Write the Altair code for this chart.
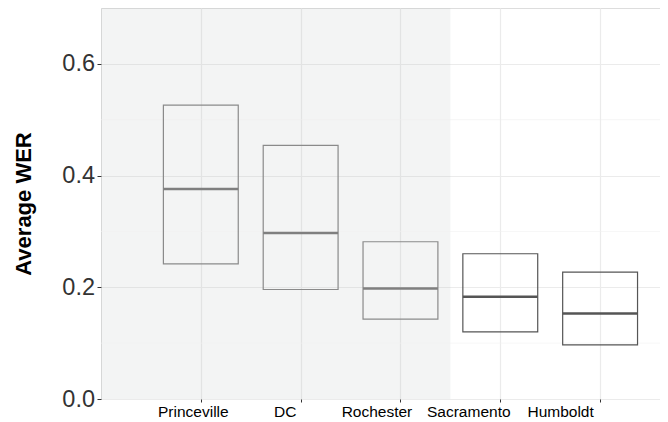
import altair as alt
import pandas as pd

sites = ["Princeville", "DC", "Rochester", "Sacramento", "Humboldt"]
q1 = [0.242, 0.196, 0.143, 0.120, 0.097]
median = [0.376, 0.297, 0.198, 0.183, 0.153]
q3 = [0.526, 0.454, 0.2815, 0.260, 0.227]

shade_start = [0.0]
shade_end = [3.5]
minor_grid = [0.1, 0.3, 0.5]

df = pd.DataFrame({"site": sites, "q1": q1, "median": median, "q3": q3,
                   "pos": list(range(1, len(sites) + 1))})
shade = pd.DataFrame({"x0": shade_start, "x1": shade_end})
minor = pd.DataFrame({"y": minor_grid})

W, H = 559, 391
xscale = alt.Scale(domain=[0, 5.6], nice=False, zero=False)
yscale = alt.Scale(domain=[0, 0.7], nice=False)

label_expr = "['', " + ", ".join(f"'{s}'" for s in sites) + "][datum.value]"

xaxis = alt.Axis(values=[1, 2, 3, 4, 5], labelExpr=label_expr, title=None,
                 labelFont="Liberation Sans", labelFontSize=15.5, labelColor="#000",
                 labelOffset=alt.ExprRef(expr="-8*datum.value"),
                 tickColor="#333", tickSize=3, domain=False,
                 gridColor="#ebebeb", gridWidth=1.2, labelPadding=2)
yaxis = alt.Axis(values=[0, 0.2, 0.4, 0.6], format=".1f", title="Average WER",
                 labelFont="Liberation Sans", labelFontSize=23.5, labelColor="#333",
                 titleFont="Liberation Sans", titleFontSize=22, titleFontWeight="bold",
                 titleColor="#000", titlePadding=26, tickColor="#333", tickSize=4,
                 labelPadding=2.5, domain=False, gridColor="#ebebeb", gridWidth=1.2)

rect = alt.Chart(shade).mark_rect(color="#b4bcbc", opacity=0.16).encode(
    x=alt.X("x0:Q", scale=xscale, axis=xaxis),
    x2="x1:Q",
    y=alt.value(0), y2=alt.value(H),
)

minor_rules = alt.Chart(minor).mark_rule(color="#f0f0f0", strokeWidth=0.6).encode(
    y=alt.Y("y:Q", scale=yscale, axis=yaxis),
    x=alt.value(0), x2=alt.value(W),
)

box_base = alt.Chart(df).transform_calculate(
    left="datum.pos - 0.375", right="datum.pos + 0.375"
)

boxes = box_base.mark_rect(fill="transparent", strokeWidth=1.2).encode(
    x=alt.X("left:Q", scale=xscale, axis=xaxis),
    x2="right:Q",
    y=alt.Y("q1:Q", scale=yscale, axis=yaxis),
    y2="q3:Q",
    stroke=alt.condition("datum.pos <= 3", alt.value("#8a8a8a"), alt.value("#555555")),
)

medians = box_base.mark_rule(strokeWidth=2.5).encode(
    x=alt.X("left:Q", scale=xscale, axis=xaxis),
    x2="right:Q",
    y=alt.Y("median:Q", scale=yscale, axis=yaxis),
    stroke=alt.condition("datum.pos <= 3", alt.value("#7f7f7f"), alt.value("#555555")),
)

chart = alt.layer(rect, minor_rules, boxes, medians).properties(
    width=W, height=H,
    autosize=alt.AutoSizeParams(type="none"),
    padding={"left": 93, "top": 0, "right": 0, "bottom": 22},
).configure_view(stroke="#666", strokeWidth=1).configure(background="white")

chart.save("out.html", embed_options={"renderer": "svg", "actions": False})
